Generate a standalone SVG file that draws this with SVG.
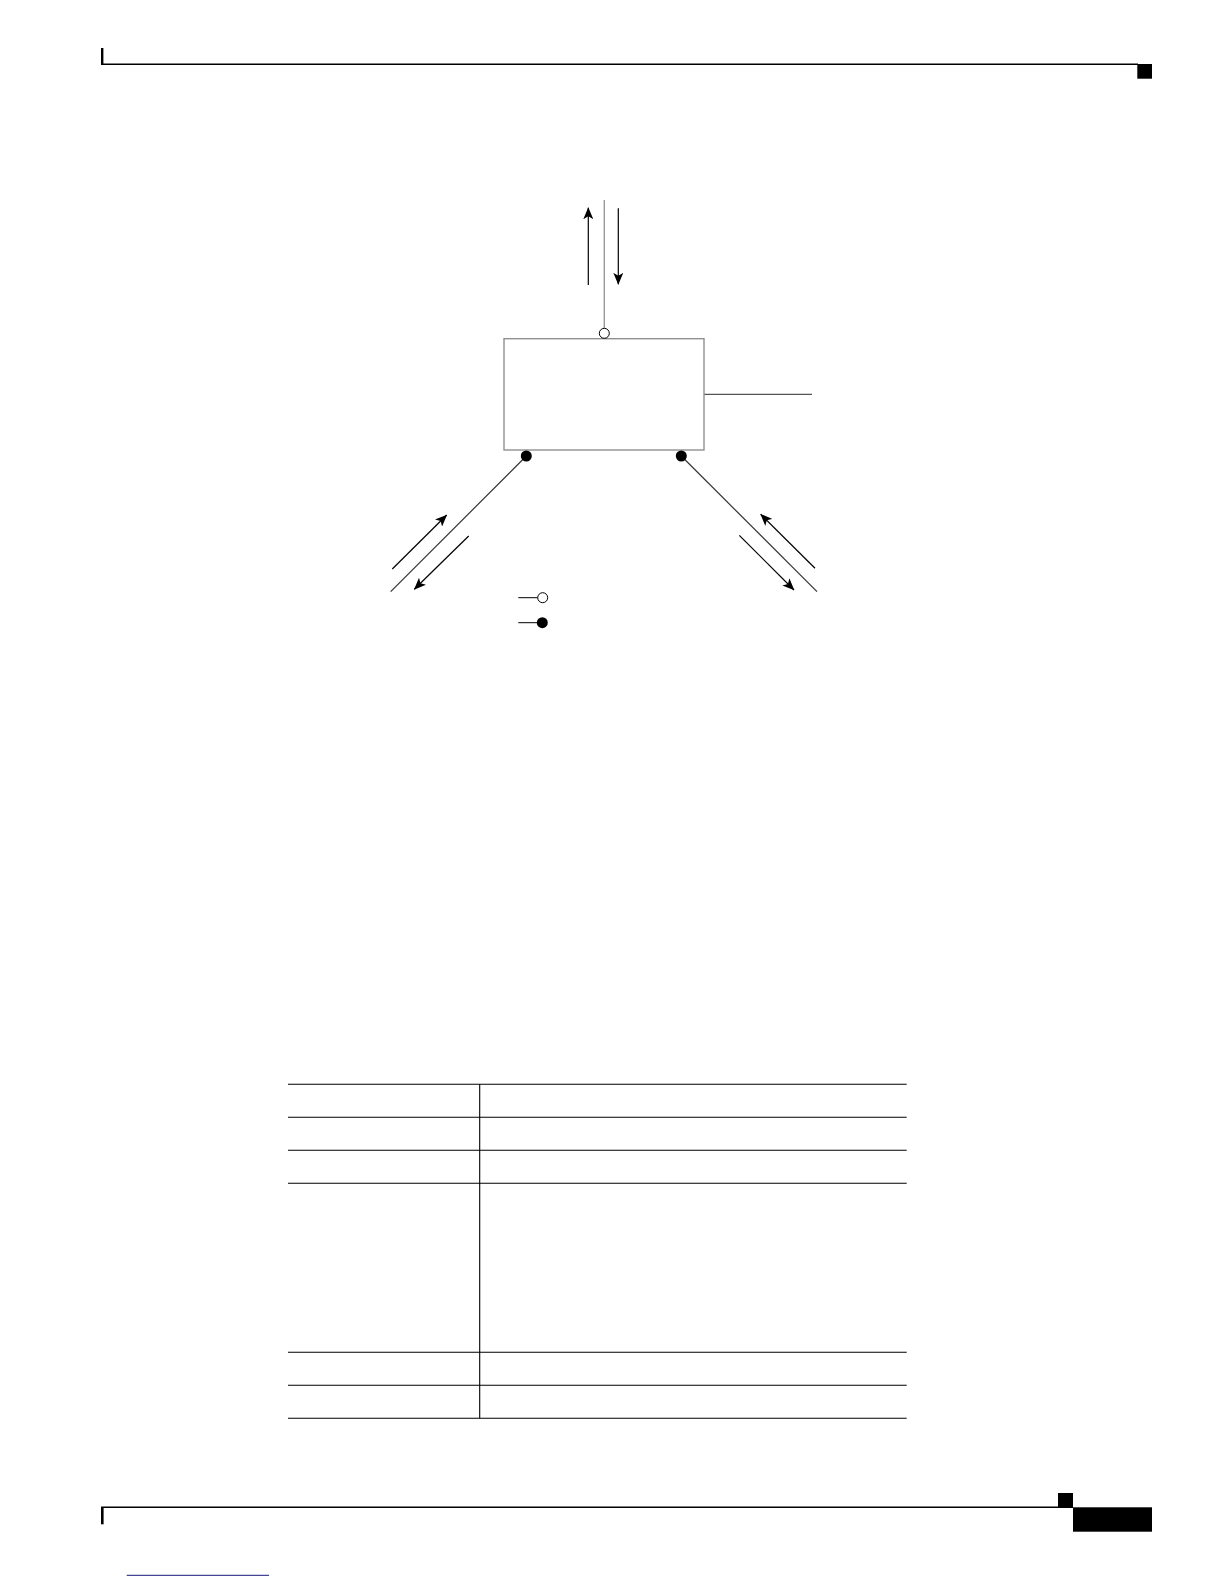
<svg xmlns="http://www.w3.org/2000/svg" width="1224" height="1584" viewBox="0 0 1224 1584">
<style>
.rule{stroke:#000;stroke-width:1.4;fill:none}
.tbl{stroke:#000;stroke-width:1.1;fill:none}
.arr{stroke:#000;stroke-width:1.2;fill:none;marker-end:url(#ah)}
.diag{stroke:#333;stroke-width:1.2;fill:none}
.blk{fill:#000;stroke:none}
</style>
<defs>
<marker id="ah" viewBox="0 0 12 10" refX="11.5" refY="5" markerWidth="12" markerHeight="10" markerUnits="userSpaceOnUse" orient="auto">
<path d="M0,0 L12,5 L0,10 L3,5 Z" fill="#000"/>
</marker>
</defs>
<g id="page-frame">
<rect class="blk" x="101" y="48" width="2.4" height="16.5"/>
<line class="rule" x1="101" y1="64.3" x2="1138" y2="64.3"/>
<rect class="blk" x="1137.3" y="64" width="14.7" height="14.7"/>
<rect class="blk" x="1058" y="1493" width="15" height="14.5"/>
<line class="rule" x1="101" y1="1507.3" x2="1073" y2="1507.3"/>
<rect class="blk" x="101" y="1507" width="2.6" height="17.3"/>
<rect class="blk" x="1073" y="1507.3" width="79" height="24.4"/>
<line x1="126.7" y1="1575.3" x2="269" y2="1575.3" stroke="#1a1a80" stroke-width="1"/>
</g>
<g id="connectors">
<line x1="604.3" y1="200" x2="604.3" y2="328" stroke="#999" stroke-width="1.4"/>
<line x1="704" y1="394.3" x2="812" y2="394.3" stroke="#555" stroke-width="1.2"/>
<line class="diag" x1="526.3" y1="456" x2="390.7" y2="591.7"/>
<line class="diag" x1="681.3" y1="456" x2="817" y2="591.7"/>
<line class="arr" x1="588.3" y1="285" x2="588.3" y2="207.7"/>
<line class="arr" x1="618.3" y1="208.3" x2="618.3" y2="284.3"/>
<line class="arr" x1="392.3" y1="569" x2="446.7" y2="515"/>
<line class="arr" x1="468.7" y1="536" x2="414.3" y2="589.3"/>
<line class="arr" x1="815" y1="568.3" x2="760.7" y2="514.3"/>
<line class="arr" x1="739.3" y1="535.3" x2="794" y2="590"/>
</g>
<g id="device">
<rect x="504" y="338.7" width="200" height="111.3" fill="#fff" stroke="#919191" stroke-width="1.4"/>
</g>
<g id="port-top">
<circle cx="604.3" cy="333.3" r="5" fill="#fff" stroke="#000" stroke-width="1"/>
</g>
<g id="port-left">
<circle cx="526.3" cy="456" r="5.5" fill="#000"/>
</g>
<g id="port-right">
<circle cx="681.3" cy="456" r="5.5" fill="#000"/>
</g>
<g id="legend">
<line x1="518.3" y1="597.7" x2="537.7" y2="597.7" stroke="#000" stroke-width="1"/>
<circle cx="542.7" cy="597.7" r="5" fill="#fff" stroke="#000" stroke-width="1"/>
<line x1="518.3" y1="622.7" x2="537.3" y2="622.7" stroke="#000" stroke-width="1"/>
<circle cx="542.3" cy="622.7" r="5.5" fill="#000"/>
</g>
<g id="table">
<line class="tbl" x1="288" y1="1084.3" x2="906.7" y2="1084.3"/>
<line class="tbl" x1="288" y1="1117.3" x2="906.7" y2="1117.3"/>
<line class="tbl" x1="288" y1="1150.3" x2="906.7" y2="1150.3"/>
<line class="tbl" x1="288" y1="1183.3" x2="906.7" y2="1183.3"/>
<line class="tbl" x1="288" y1="1352.3" x2="906.7" y2="1352.3"/>
<line class="tbl" x1="288" y1="1385.3" x2="906.7" y2="1385.3"/>
<line class="tbl" x1="288" y1="1418.3" x2="906.7" y2="1418.3"/>
<line class="tbl" x1="479.7" y1="1084.3" x2="479.7" y2="1418.3"/>
</g>
</svg>
